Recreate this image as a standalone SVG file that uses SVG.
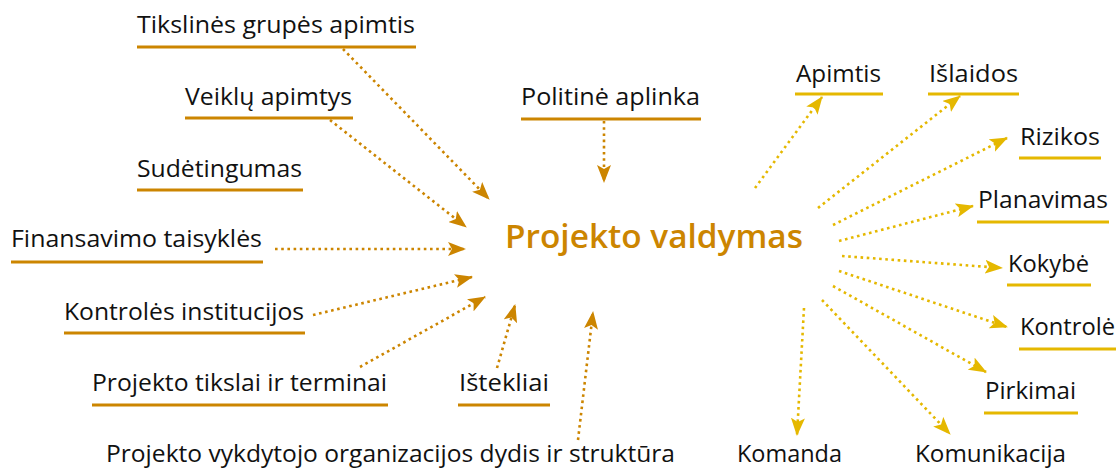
<svg xmlns="http://www.w3.org/2000/svg" width="1119" height="472" viewBox="0 0 1119 472">
<defs>
<style>
text{font-family:"Open Sans","Noto Sans","DejaVu Sans",sans-serif;font-size:23.5px;fill:#111}
.t{font-size:33px;font-weight:600;fill:#CC8500}
.uo{stroke:#CC8500;stroke-width:3}
.uy{stroke:#E5B800;stroke-width:3}
.co{stroke:#CC8500;stroke-width:2.6;stroke-dasharray:2.6 3.6;fill:none;marker-end:url(#ao)}
.cy{stroke:#E5B800;stroke-width:2.6;stroke-dasharray:2.6 3.6;fill:none;marker-end:url(#ay)}
</style>
<marker id="ao" viewBox="0 0 18 14" refX="17" refY="7" markerWidth="18" markerHeight="14" markerUnits="userSpaceOnUse" orient="auto"><path d="M0,0 L18,7 L0,14 L4,7 z" fill="#CC8500"/></marker>
<marker id="ay" viewBox="0 0 18 14" refX="17" refY="7" markerWidth="18" markerHeight="14" markerUnits="userSpaceOnUse" orient="auto"><path d="M0,0 L18,7 L0,14 L4,7 z" fill="#E5B800"/></marker>
</defs>
<rect width="1119" height="472" fill="#fff"/>
<g id="center"><text class="t" x="505" y="248" textLength="298" lengthAdjust="spacingAndGlyphs">Projekto valdymas</text></g>
<g id="n-tikslines"><text x="137" y="33" textLength="278" lengthAdjust="spacingAndGlyphs">Tikslinės grupės apimtis</text><line class="uo" x1="137" y1="47" x2="416" y2="47"/></g>
<g id="n-veiklu"><text x="185" y="105" textLength="167" lengthAdjust="spacingAndGlyphs">Veiklų apimtys</text><line class="uo" x1="185" y1="118" x2="353" y2="118"/></g>
<g id="n-sudetingumas"><text x="137" y="177" textLength="165" lengthAdjust="spacingAndGlyphs">Sudėtingumas</text><line class="uo" x1="137" y1="190" x2="303" y2="190"/></g>
<g id="n-finansavimo"><text x="11" y="247" textLength="251" lengthAdjust="spacingAndGlyphs">Finansavimo taisyklės</text><line class="uo" x1="11" y1="262" x2="263" y2="262"/></g>
<g id="n-kontroles"><text x="64" y="320" textLength="240" lengthAdjust="spacingAndGlyphs">Kontrolės institucijos</text><line class="uo" x1="64" y1="333" x2="305" y2="333"/></g>
<g id="n-tikslai"><text x="92" y="391" textLength="295" lengthAdjust="spacingAndGlyphs">Projekto tikslai ir terminai</text><line class="uo" x1="92" y1="405" x2="388" y2="405"/></g>
<g id="n-istekliai"><text x="459" y="391" textLength="90" lengthAdjust="spacingAndGlyphs">Ištekliai</text><line class="uo" x1="458" y1="405" x2="550" y2="405"/></g>
<g id="n-organizacija"><text x="106" y="462" textLength="569" lengthAdjust="spacingAndGlyphs">Projekto vykdytojo organizacijos dydis ir struktūra</text></g>
<g id="n-politine"><text x="521" y="105" textLength="179" lengthAdjust="spacingAndGlyphs">Politinė aplinka</text><line class="uo" x1="521" y1="119" x2="701" y2="119"/></g>
<g id="n-apimtis"><text x="796" y="82" textLength="85" lengthAdjust="spacingAndGlyphs">Apimtis</text><line class="uy" x1="795" y1="94" x2="883" y2="94"/></g>
<g id="n-islaidos"><text x="929" y="82" textLength="89" lengthAdjust="spacingAndGlyphs">Išlaidos</text><line class="uy" x1="928" y1="94" x2="1019" y2="94"/></g>
<g id="n-rizikos"><text x="1020" y="145" textLength="80" lengthAdjust="spacingAndGlyphs">Rizikos</text><line class="uy" x1="1019" y1="158" x2="1101" y2="158"/></g>
<g id="n-planavimas"><text x="978" y="208" textLength="130" lengthAdjust="spacingAndGlyphs">Planavimas</text><line class="uy" x1="977" y1="222" x2="1109" y2="222"/></g>
<g id="n-kokybe"><text x="1008" y="272" textLength="81" lengthAdjust="spacingAndGlyphs">Kokybė</text><line class="uy" x1="1007" y1="285" x2="1091" y2="285"/></g>
<g id="n-kontrole"><text x="1020" y="335" textLength="95" lengthAdjust="spacingAndGlyphs">Kontrolė</text><line class="uy" x1="1019" y1="349" x2="1116" y2="349"/></g>
<g id="n-pirkimai"><text x="985" y="399" textLength="91" lengthAdjust="spacingAndGlyphs">Pirkimai</text><line class="uy" x1="984" y1="413" x2="1078" y2="413"/></g>
<g id="n-komanda"><text x="737" y="462" textLength="105" lengthAdjust="spacingAndGlyphs">Komanda</text></g>
<g id="n-komunikacija"><text x="915" y="462" textLength="151" lengthAdjust="spacingAndGlyphs">Komunikacija</text></g>
<g id="connectors">
<line class="co" x1="343" y1="49" x2="489" y2="199"/>
<line class="co" x1="330" y1="120" x2="466" y2="227"/>
<line class="co" x1="275" y1="249" x2="465" y2="249"/>
<line class="co" x1="313" y1="315" x2="472" y2="277"/>
<line class="co" x1="360" y1="367" x2="485" y2="297"/>
<line class="co" x1="497" y1="368" x2="515" y2="305"/>
<line class="co" x1="578" y1="440" x2="593" y2="312"/>
<line class="co" x1="604" y1="121" x2="604" y2="182"/>
<line class="cy" x1="755" y1="188" x2="822" y2="97"/>
<line class="cy" x1="818" y1="208" x2="960" y2="96"/>
<line class="cy" x1="833" y1="225" x2="1007" y2="138"/>
<line class="cy" x1="839" y1="241" x2="973" y2="206"/>
<line class="cy" x1="842" y1="256" x2="1002" y2="268"/>
<line class="cy" x1="839" y1="271" x2="1007" y2="327"/>
<line class="cy" x1="833" y1="286" x2="986" y2="372"/>
<line class="cy" x1="822" y1="300" x2="950" y2="434"/>
<line class="cy" x1="804" y1="308" x2="797" y2="435"/>
</g>
</svg>
